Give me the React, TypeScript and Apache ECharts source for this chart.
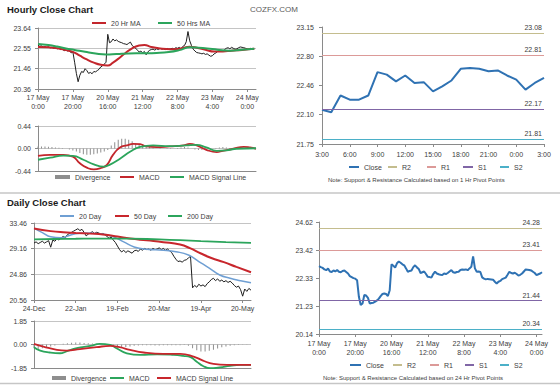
import React, { useEffect, useRef } from 'react';
import * as echarts from 'echarts';

const FONT = '"Liberation Sans", Arial, Helvetica, sans-serif';
const TXT = '#404040';
const AXIS = '#8a8a8a';
const GRIDC = '#c4c4c4';

// ---------- Hourly (17 May 0:00 .. 24 May) ----------
const hourTickValues = [0, 20, 40, 60, 80, 100, 120];
const hourTickLabels = ['17 May\n0:00', '17 May\n20:00', '20 May\n16:00', '21 May\n12:00', '22 May\n8:00', '23 May\n4:00', '24 May\n0:00'];

// hourly bars (one value per hour)
const hourlyBars = [
  22.70, 22.66, 22.68, 22.62, 22.64, 22.60, 22.63, 22.58, 22.60, 22.55, 22.58, 22.52, 22.55, 22.48, 22.50, 22.42, 22.46, 22.40, 22.44, 22.30, 22.35,
  21.80, 21.20, 20.75, 21.10, 21.30, 21.25, 21.45, 21.35, 21.20, 21.25, 21.18, 21.30, 21.28, 21.35, 21.42, 21.55, 21.60, 21.70, 21.80,
  23.30, 22.85, 22.90, 23.05, 22.95, 23.00, 22.92, 22.88, 22.85, 22.80, 22.78, 22.75, 22.82, 22.88, 22.70, 22.62, 22.55, 22.45, 22.35, 22.40,
  22.30, 22.38, 22.20, 22.35, 22.45, 22.48, 22.50, 22.45, 22.52, 22.48, 22.55, 22.50, 22.52, 22.48, 22.55, 22.50, 22.52, 22.55, 22.50, 22.58, 22.55, 22.60, 22.52, 22.65, 22.70,
  22.90, 23.45, 22.95, 22.70, 22.50, 22.40, 22.32, 22.30, 22.28, 22.25, 22.28, 22.22, 22.25, 22.18, 22.12, 22.15,
  22.25, 22.30, 22.38, 22.42, 22.45, 22.40, 22.48, 22.55, 22.58, 22.52, 22.60, 22.55, 22.50, 22.52, 22.58, 22.62, 22.60, 22.58, 22.55, 22.52, 22.48, 22.55, 22.50, 22.52,
];
const hourlyMa20: [number, number][] = [
  [0, 22.62], [6, 22.60], [11, 22.55], [16, 22.45], [20, 22.36], [24, 22.15], [28, 21.95], [32, 21.78], [36, 21.66], [40, 21.62],
  [43, 21.78], [46, 21.98], [50, 22.28], [54, 22.55], [58, 22.70], [61, 22.73], [65, 22.62], [70, 22.54], [76, 22.50], [82, 22.54],
  [87, 22.63], [91, 22.58], [96, 22.47], [101, 22.37], [106, 22.38], [111, 22.42], [117, 22.46], [124, 22.52],
];
const hourlyMa50: [number, number][] = [
  [0, 22.78], [6, 22.72], [11, 22.64], [16, 22.54], [21, 22.46], [27, 22.36], [33, 22.27], [39, 22.22], [45, 22.24], [52, 22.27],
  [60, 22.28], [68, 22.30], [75, 22.35], [81, 22.45], [87, 22.60], [92, 22.58], [97, 22.54], [103, 22.47], [110, 22.42], [117, 22.47], [124, 22.52],
];
// divergence, one bar every 2 hours
const hourlyDivergence = [
  0.04, 0.04, 0.04, 0.035, 0.03, 0.02, 0.015, 0.01,
  0, -0.02, -0.04,
  -0.06, -0.09, -0.11, -0.12, -0.12, -0.11, -0.10, -0.08, -0.06, -0.03,
  0.06, 0.12, 0.17, 0.19, 0.19, 0.17, 0.14, 0.10, 0.08, 0.07,
  0.05, 0.03, 0.02, 0.0, -0.01, 0, 0.01, 0.01, 0.0, 0.01, 0.02, 0.03, 0.02, 0, -0.02, -0.03,
  -0.03, -0.02, -0.01, 0.0, 0.01, 0.02, 0.03, 0.02, 0.01, 0.0, -0.01, 0, 0.01, 0.02, 0.01, 0.0,
];
const hourlyMacd: [number, number][] = [
  [0, -0.145], [7, -0.125], [14.5, -0.125], [20, -0.16], [24, -0.29], [28, -0.375], [32, -0.41], [35.5, -0.39], [39.5, -0.32],
  [43, -0.125], [47, 0.02], [51, 0.06], [54.5, 0.09], [58.5, 0.085], [62, 0.04], [68, 0.025], [75.5, 0.04], [83.5, 0.06],
  [87, 0.09], [91, 0.06], [96.5, -0.025], [102.5, -0.07], [106, -0.045], [112, -0.005], [118, 0.033], [121.5, 0.02], [125, -0.005],
];
const hourlySignal: [number, number][] = [
  [0, -0.22], [7, -0.18], [14.5, -0.14], [20, -0.145], [26, -0.22], [32, -0.31], [37.5, -0.355], [41, -0.32], [47, -0.20],
  [53, -0.06], [58.5, 0.03], [66, 0.06], [75.5, 0.045], [85, 0.06], [91, 0.07], [96.5, 0.02], [102.5, -0.045], [108, -0.035], [114, -0.005], [125, 0.005],
];

// ---------- 1 Hr pivot panel ----------
const pivotTickValues = [0, 3, 6, 9, 12, 15, 18, 21, 24];
const pivotTickLabels = ['3:00', '6:00', '9:00', '12:00', '15:00', '18:00', '21:00', '0:00', '3:00'];
const pivot1Close = [
  22.16, 22.13, 22.33, 22.28, 22.28, 22.33, 22.61, 22.58, 22.50, 22.57, 22.48, 22.49, 22.38,
  22.44, 22.51, 22.65, 22.66, 22.65, 22.62, 22.63, 22.57, 22.52, 22.40, 22.48, 22.54,
];
const pivotNames = ['R2', 'R1', 'S1', 'S2'];
const pivotColors = ['#c4bd8e', '#dc9a98', '#8066a6', '#4bb0c8'];
const pivot1Levels = [23.08, 22.81, 22.17, 21.81];

// ---------- 24 Hr pivot panel ----------
const pivot24Close = [
  22.79, 22.75, 22.72, 22.66, 22.63, 22.70, 22.58, 22.56, 22.62, 22.58, 22.64, 22.57, 22.55, 22.60, 22.62, 22.56, 22.50, 22.40, 22.36, 22.32, 22.30,
  22.24, 21.59, 21.27, 21.33, 21.66, 21.64, 21.55, 21.33, 21.35, 21.36, 21.40, 21.45, 21.52, 21.62, 21.70, 21.72, 21.70, 21.62, 21.85,
  22.86, 22.80, 22.73, 22.90, 22.97, 22.92, 22.86, 22.82, 22.70, 22.57, 22.60, 22.62, 22.75, 22.82, 22.74, 22.68, 22.52, 22.55, 22.58, 22.48,
  22.37, 22.36, 22.34, 22.48, 22.57, 22.50, 22.47, 22.45, 22.44, 22.50, 22.48, 22.52, 22.58, 22.63, 22.55, 22.53, 22.56, 22.57, 22.64, 22.66, 22.65, 22.66, 22.63, 22.70, 22.76,
  23.17, 22.70, 22.57, 22.58, 22.56, 22.35, 22.30, 22.27, 22.29, 22.28, 22.27, 22.26, 22.18, 22.11, 22.18, 22.21,
  22.28, 22.31, 22.34, 22.45, 22.57, 22.52, 22.50, 22.53, 22.48, 22.42, 22.45, 22.50, 22.58, 22.66, 22.65, 22.64, 22.62, 22.57, 22.52, 22.44, 22.47, 22.50, 22.55,
];
const pivot24Levels = [24.28, 23.41, 21.44, 20.34];

// ---------- Daily ----------
const dayTickValues = [0, 20, 40, 60, 80, 100];
const dayTickLabels = ['24-Dec', '22-Jan', '19-Feb', '20-Mar', '19-Apr', '20-May'];
const dailyBars = [
  30.1, 30.3, 30.0, 30.2, 30.4, 30.1, 30.3, 30.5,
  29.4, 30.6, 30.4, 30.8, 30.6, 31.0, 31.2, 31.0, 31.5, 31.7, 31.9, 32.1, 32.3, 32.5, 32.2, 32.4,
  31.9, 31.3, 31.6, 31.8, 32.0, 31.7, 31.9, 31.8, 31.6, 31.7, 31.5, 31.2, 30.9, 31.1, 30.6, 30.2,
  29.6, 29.0, 28.6, 28.9, 28.5, 28.8, 28.6, 28.4, 28.8, 28.9, 28.7, 29.1, 28.9, 29.2, 29.0, 29.1,
  28.9, 29.2, 29.0, 29.1, 29.3, 29.0, 29.2, 28.9, 29.1, 28.8, 28.5, 27.9, 27.4, 27.0, 27.1, 26.9,
  27.2, 27.3, 27.6, 27.9, 22.6, 23.0, 22.7, 23.2, 22.9, 23.1, 22.8, 23.3, 23.6, 24.0, 24.2, 23.8,
  24.1, 23.7, 23.9, 23.6, 23.8, 23.5, 23.7, 23.4, 23.0, 22.7, 22.9, 22.3, 21.2, 22.4, 22.0, 22.5, 22.2,
];
const daily20: [number, number][] = [
  [0, 32.55], [4, 31.85], [8, 31.15], [13, 31.0], [18, 31.5], [24, 31.8], [30, 31.7], [34, 31.55], [38, 31.15], [43, 30.3],
  [48, 29.45], [54, 29.05], [62, 28.9], [68, 28.65], [74, 28.1], [79, 27.0], [84, 25.9], [89, 24.75], [94, 24.2], [99, 23.8], [104, 23.45],
];
const daily50: [number, number][] = [
  [0, 32.55], [8, 32.1], [14, 31.9], [20, 31.8], [27, 31.68], [33, 31.55], [40, 31.2], [46, 30.85], [54, 30.55], [62, 30.25],
  [70, 29.85], [75, 29.2], [80, 28.35], [85, 27.6], [91, 26.9], [97, 26.1], [104, 25.2],
];
const daily200: [number, number][] = [
  [0, 30.7], [10, 30.78], [20, 30.82], [30, 30.85], [45, 30.85], [60, 30.7], [70, 30.58], [80, 30.42], [92, 30.25], [104, 30.12],
];
// divergence, one bar every 2 days
const dailyDivergence = [
  -0.25, -0.35, -0.3, -0.22, -0.15, -0.08,
  0.0, 0.05, 0.1, 0.14, 0.16, 0.15, 0.12, 0.1, 0.08, 0.05, 0.02, -0.02,
  -0.12, -0.2, -0.26, -0.25, -0.2, -0.15, -0.1, -0.08, -0.06,
  -0.05, -0.06, -0.07, -0.08, -0.06, -0.05, -0.06, -0.05, -0.05, -0.04, -0.1,
  -0.3, -0.45, -0.55, -0.55, -0.5, -0.42, -0.32, -0.22, -0.15, -0.1,
  -0.06, -0.04, -0.02, -0.01, 0.0,
];
const dailyMacd: [number, number][] = [
  [0, -0.21], [3, -0.48], [7.5, -0.63], [12.5, -0.69], [15.5, -0.55], [20.5, -0.29], [27, -0.11], [31.5, 0.05], [36.5, -0.03],
  [39.5, -0.29], [44.5, -0.69], [51, -0.82], [59, -0.77], [67, -0.82], [71.5, -0.9], [75, -1.0], [78, -1.35], [81, -1.69],
  [84.5, -1.87], [89, -1.8], [94, -1.69], [98.5, -1.61], [104, -1.61],
];
const dailySignal: [number, number][] = [
  [0, 0.05], [4.5, -0.16], [11, -0.42], [15.5, -0.48], [22, -0.37], [30, -0.21], [36.5, -0.11], [41, -0.21], [46, -0.42],
  [52.5, -0.63], [62, -0.74], [70, -0.74], [76.5, -0.95], [81, -1.27], [86, -1.53], [92.5, -1.61], [98.5, -1.61], [104, -1.61],
];

// y axis ticks / labels
const hourlyPriceTicks = [20.36, 21.4533, 22.5467, 23.64];
const hourlyPriceLabels = ['20.36', '21.46', '22.55', '23.64'];
const hourlyMacdTicks = [-0.44, 0, 0.44];
const hourlyMacdLabels = ['-0.44', '0.00', '0.44'];
const pivot1Ticks = [21.75, 22.1, 22.45, 22.8, 23.15];
const pivot1Labels = ['21.75', '22.10', '22.46', '22.80', '23.15'];
const dailyPriceTicks = [20.56, 24.86, 29.16, 33.46];
const dailyPriceLabels = ['20.56', '24.86', '29.16', '33.46'];
const dailyMacdTicks = [-1.85, 0, 1.85];
const dailyMacdLabels = ['-1.85', '0.00', '1.85'];
const pivot24Ticks = [20.14, 21.2325, 22.325, 23.4175, 24.51];
const pivot24Labels = ['20.14', '21.23', '22.33', '23.42', '24.62'];

function nearest(ticks: number[], v: number) {
  let best = 0;
  for (let i = 1; i < ticks.length; i++) if (Math.abs(ticks[i] - v) < Math.abs(ticks[best] - v)) best = i;
  return best;
}

function yAxis(gridIndex: number, ticks: number[], labels: string[], margin: number, split: boolean) {
  return {
    type: 'value', gridIndex, min: ticks[0], max: ticks[ticks.length - 1],
    axisLine: { show: true, lineStyle: { color: AXIS, width: 1 } },
    axisTick: { show: true, length: 3, customValues: ticks, lineStyle: { color: AXIS } },
    axisLabel: {
      customValues: ticks, fontSize: 7, color: TXT, fontFamily: FONT, margin,
      formatter: (v: number) => labels[nearest(ticks, v)],
    },
    splitLine: { show: split, lineStyle: { color: GRIDC, width: 1 } },
  };
}

function xAxis(gridIndex: number, max: number, ticks: number[] | null, labels: string[] | null, margin: number) {
  return {
    type: 'value', gridIndex, min: 0, max,
    axisLine: { show: true, onZero: false, lineStyle: { color: AXIS, width: 1 } },
    axisTick: ticks ? { show: true, length: 3, customValues: ticks, lineStyle: { color: AXIS } } : { show: false },
    axisLabel: ticks && labels
      ? {
          show: true, customValues: ticks, fontSize: 7, color: TXT, fontFamily: FONT, lineHeight: 9, margin,
          formatter: (v: number) => labels[nearest(ticks, v)],
        }
      : { show: false },
    splitLine: { show: false },
  };
}

function lineSeries(name: string, gi: number, data: any[], color: string, width: number, smooth: boolean | number = false, z = 3) {
  return {
    name, type: 'line', xAxisIndex: gi, yAxisIndex: gi, data, color, symbol: 'none', smooth, z,
    lineStyle: { color, width }, itemStyle: { color }, silent: true,
  };
}

function barSeries(name: string, gi: number, data: any[], color: string) {
  return {
    name, type: 'bar', xAxisIndex: gi, yAxisIndex: gi, data, color, barWidth: 1, itemStyle: { color }, silent: true, z: 1,
  };
}

function pivotSeries(prefix: string, gi: number, levels: number[]) {
  return pivotNames.map((n, i) => ({
    name: prefix + n, type: 'line', xAxisIndex: gi, yAxisIndex: gi, data: [], color: pivotColors[i], symbol: 'none',
    lineStyle: { color: pivotColors[i], width: 1 }, itemStyle: { color: pivotColors[i] },
    markLine: {
      silent: true, symbol: ['none', 'none'], animation: false,
      data: [{ yAxis: levels[i] }],
      lineStyle: { color: pivotColors[i], width: 1, type: 'solid' },
      label: { show: true, position: 'insideEndTop', distance: 2, formatter: () => levels[i].toFixed(2), fontSize: 7, color: TXT, fontFamily: FONT },
    },
  }));
}

function leg(name: string, left: number, cy: number, w: number, h = 2) {
  return {
    data: [name], left, top: cy - 4, itemWidth: w, itemHeight: h, icon: 'rect', padding: 0, itemGap: 0,
    selectedMode: false, formatter: (n: string) => n.slice(2),
    textStyle: { fontSize: 7, color: TXT, fontFamily: FONT, lineHeight: 8 },
  };
}

function text(t: string, left: number, top: number, font: string, fill: string) {
  return { type: 'text', left, top, silent: true, style: { text: t, font, fill } };
}

function buildOption() {
  const grids = [
    { left: 38, top: 28, width: 218, height: 61 },
    { left: 38, top: 126, width: 218, height: 45 },
    { left: 322, top: 27, width: 222, height: 117 },
    { left: 34, top: 223, width: 217, height: 77 },
    { left: 34, top: 321, width: 217, height: 47 },
    { left: 319, top: 222, width: 223, height: 112 },
  ].map((g) => ({ ...g, containLabel: false, outerBoundsMode: 'none' }));

  const xAxes = [
    xAxis(0, 125, hourTickValues, hourTickLabels, 4),
    xAxis(1, 125, null, null, 4),
    xAxis(2, 24, pivotTickValues, pivotTickLabels, 6),
    xAxis(3, 104, dayTickValues, dayTickLabels, 4),
    xAxis(4, 104, null, null, 4),
    xAxis(5, 123, hourTickValues, hourTickLabels, 5),
  ];
  const yAxes = [
    yAxis(0, hourlyPriceTicks, hourlyPriceLabels, 7, true),
    yAxis(1, hourlyMacdTicks, hourlyMacdLabels, 7, true),
    yAxis(2, pivot1Ticks, pivot1Labels, 8, false),
    yAxis(3, dailyPriceTicks, dailyPriceLabels, 7, true),
    yAxis(4, dailyMacdTicks, dailyMacdLabels, 7, true),
    yAxis(5, pivot24Ticks, pivot24Labels, 6, false),
  ];

  const series: any[] = [
    lineSeries('h:price', 0, hourlyBars.map((v, i) => [i, v]), '#1e1e1e', 1, false, 2),
    lineSeries('h:20 Hr MA', 0, hourlyMa20, '#c3262c', 2, 0.5),
    lineSeries('h:50 Hrs MA', 0, hourlyMa50, '#2ca55c', 2, 0.5),
    barSeries('h:Divergence', 1, hourlyDivergence.map((v, i) => [i * 2, v]), '#8e8e8e'),
    lineSeries('h:MACD', 1, hourlyMacd, '#c3262c', 1.8, 0.5),
    lineSeries('h:MACD Signal Line', 1, hourlySignal, '#2ca55c', 1.8, 0.5),
    lineSeries('t:Close', 2, pivot1Close.map((v, i) => [i, v]), '#2f72b3', 2, false, 4),
    ...pivotSeries('t:', 2, pivot1Levels),
    lineSeries('d:price', 3, dailyBars.map((v, i) => [i, v]), '#1e1e1e', 1, false, 2),
    lineSeries('d:20 Day', 3, daily20, '#6f9fd3', 1.5, 0.5),
    lineSeries('d:50 Day', 3, daily50, '#c8262c', 2, 0.5),
    lineSeries('d:200 Day', 3, daily200, '#2ca55c', 1.8, 0.5),
    barSeries('d:Divergence', 4, dailyDivergence.map((v, i) => [i * 2, v]), '#8e8e8e'),
    lineSeries('d:MACD', 4, dailyMacd, '#2ca55c', 1.8, 0.5),
    lineSeries('d:MACD Signal Line', 4, dailySignal, '#c8262c', 1.8, 0.5),
    lineSeries('b:Close', 5, pivot24Close.map((v, i) => [i, v]), '#2f72b3', 2, false, 4),
    ...pivotSeries('b:', 5, pivot24Levels),
  ];

  const legends = [
    leg('h:20 Hr MA', 92, 23, 14),
    leg('h:50 Hrs MA', 158, 23, 14),
    leg('h:Divergence', 55, 177, 15, 4),
    leg('h:MACD', 120, 177, 14),
    leg('h:MACD Signal Line', 170, 177, 14),
    leg('t:Close', 349, 167, 10),
    leg('t:R2', 388, 167, 9),
    leg('t:R1', 427, 167, 9),
    leg('t:S1', 463, 167, 10),
    leg('t:S2', 500, 167, 9),
    leg('d:20 Day', 60, 216, 14),
    leg('d:50 Day', 115, 216, 14),
    leg('d:200 Day', 168, 216, 14),
    leg('d:Divergence', 52, 378, 14, 4),
    leg('d:MACD', 110, 378, 14),
    leg('d:MACD Signal Line', 157, 378, 14),
    leg('b:Close', 350, 365, 11),
    leg('b:R2', 393, 365, 9),
    leg('b:R1', 430, 365, 9),
    leg('b:S1', 465, 365, 9),
    leg('b:S2', 500, 365, 9),
  ];

  const graphic = [
    text('Hourly Close Chart', 7, 4, 'bold 9.5px ' + FONT, '#1a1a1a'),
    text('COZFX.COM', 250, 5, '8px ' + FONT, '#5a5a5a'),
    text('Note: Support & Resistance Calculated based on 1 Hr Pivot Points', 328, 177, '6px ' + FONT, '#404040'),
    text('Daily Close Chart', 7, 197, 'bold 9.5px ' + FONT, '#1a1a1a'),
    text('Note: Support & Resistance Calculated based on 24 Hr Pivot Points', 323, 375, '6px ' + FONT, '#404040'),
    { type: 'line', silent: true, shape: { x1: 0, y1: 193, x2: 560, y2: 193 }, style: { stroke: '#c6c6c6', lineWidth: 1.5 } },
    { type: 'line', silent: true, shape: { x1: 0, y1: 383.5, x2: 560, y2: 383.5 }, style: { stroke: '#c6c6c6', lineWidth: 1.5 } },
  ];

  return {
    animation: false,
    backgroundColor: '#ffffff',
    textStyle: { fontFamily: FONT },
    grid: grids,
    xAxis: xAxes,
    yAxis: yAxes,
    legend: legends,
    series,
    graphic,
  };
}

export default function App() {
  const ref = useRef<HTMLDivElement>(null);
  useEffect(() => {
    const el = ref.current!;
    const chart = echarts.init(el, undefined, { renderer: 'svg', width: 560, height: 386 });
    chart.setOption(buildOption() as any);
    return () => chart.dispose();
  }, []);
  return <div ref={ref} style={{ position: 'fixed', left: 0, top: 0, width: 560, height: 386, background: '#fff' }} />;
}
